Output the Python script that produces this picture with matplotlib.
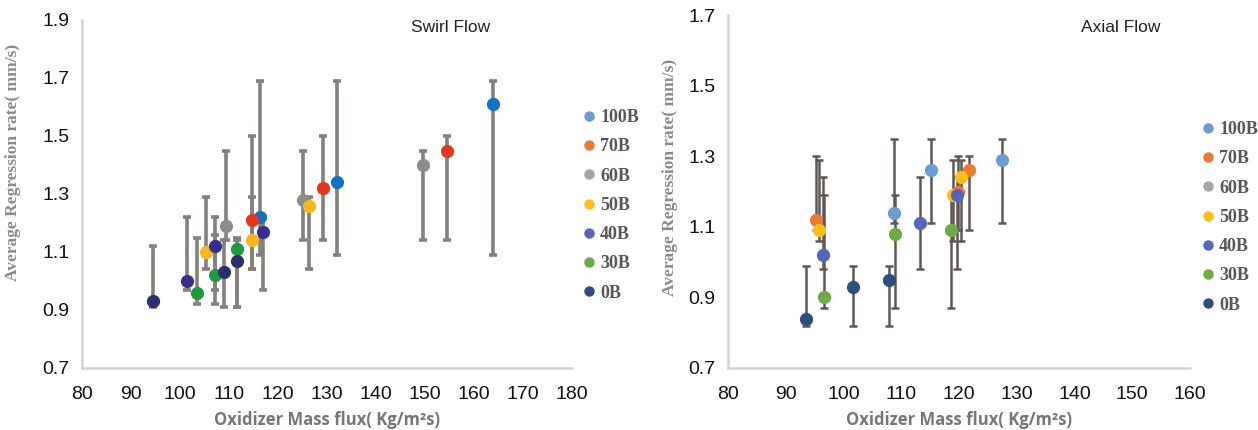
import matplotlib.pyplot as plt
from matplotlib.lines import Line2D

# series labels (same order in both panels)
labels = ["100B", "70B", "60B", "50B", "40B", "30B", "0B"]

# Swirl flow: mean regression rate with min/max bars
swirl_x = [[116.3, 132.0, 163.9], [114.7, 129.2, 154.5], [109.4, 125.1, 149.6],
           [105.3, 114.7, 126.3], [101.4, 107.1, 116.9], [103.5, 107.1, 111.6],
           [94.5, 109.0, 111.6]]
swirl_y = [[1.22, 1.34, 1.61], [1.21, 1.32, 1.45], [1.19, 1.28, 1.40],
           [1.10, 1.14, 1.26], [1.00, 1.12, 1.17], [0.96, 1.02, 1.11],
           [0.93, 1.03, 1.07]]
swirl_hi = [[1.69, 1.69, 1.69], [1.50, 1.50, 1.50], [1.45, 1.45, 1.45],
            [1.29, 1.29, 1.29], [1.22, 1.22, 1.22], [1.15, 1.16, 1.15],
            [1.12, 1.14, 1.14]]
swirl_lo = [[1.09, 1.09, 1.09], [1.04, 1.14, 1.14], [1.14, 1.14, 1.14],
            [1.04, 1.04, 1.04], [0.97, 0.97, 0.97], [0.92, 0.92, 0.91],
            [0.91, 0.91, 0.91]]

# Axial flow (no 60B points visible)
axial_x = [[108.7, 115.1, 127.4], [95.2, 119.8, 121.8], [],
           [95.8, 119.0, 120.3], [96.4, 113.3, 119.7], [96.7, 108.9, 118.6],
           [93.5, 101.6, 107.8]]
axial_y = [[1.14, 1.26, 1.29], [1.12, 1.20, 1.26], [],
           [1.09, 1.19, 1.24], [1.02, 1.11, 1.19], [0.90, 1.08, 1.09],
           [0.84, 0.93, 0.95]]
axial_hi = [[1.35, 1.35, 1.35], [1.30, 1.30, 1.30], [],
            [1.29, 1.29, 1.29], [1.24, 1.24, 1.24], [1.19, 1.19, 1.19],
            [0.99, 0.99, 0.99]]
axial_lo = [[1.11, 1.11, 1.11], [1.09, 1.09, 1.09], [],
            [1.06, 1.06, 1.06], [0.98, 0.98, 0.98], [0.87, 0.87, 0.87],
            [0.82, 0.82, 0.82]]

swirl_colors = ["#1371C4", "#E5371F", "#8E8C8A", "#F6B81C", "#392E8E", "#1E9B3C", "#2B2F6E"]
excel_colors = ["#6A9BD3", "#EC7A33", "#A7A5A3", "#FDBE1A", "#5565BA", "#6EAA45", "#2F4D7D"]

fig = plt.figure(figsize=(12.58, 4.30), dpi=100)
ax1 = fig.add_axes([82 / 1258, 62 / 430, 490 / 1258, 348 / 430])
ax2 = fig.add_axes([728 / 1258, 62 / 430, 462 / 1258, 353 / 430])


def draw(ax, xs, ys, his, los, colors, ecol, elw, cap, ms):
    for x, y, hi, lo in zip(xs, ys, his, los):
        if not x:
            continue
        err = [[a - b for a, b in zip(y, lo)], [b - a for a, b in zip(y, hi)]]
        ax.errorbar(x, y, yerr=err, fmt="none", ecolor=ecol, elinewidth=elw,
                    capsize=cap, capthick=elw, zorder=2)
    for x, y, c in zip(xs, ys, colors):
        if not x:
            continue
        ax.plot(x, y, "o", color=c, ms=ms, mec=c, zorder=3)


draw(ax1, swirl_x, swirl_y, swirl_hi, swirl_lo, swirl_colors, "#85807b", 2.6, 3.2, 8.5)
draw(ax2, axial_x, axial_y, axial_hi, axial_lo, excel_colors, "#5f5754", 1.8, 3.0, 8.5)

ax1.set_xlim(80, 180)
ax1.set_ylim(0.7, 1.9)
ax1.set_xticks(range(80, 181, 10))
ax1.set_yticks([0.7, 0.9, 1.1, 1.3, 1.5, 1.7, 1.9])
ax2.set_xlim(80, 160)
ax2.set_ylim(0.7, 1.7)
ax2.set_xticks(range(80, 161, 10))
ax2.set_yticks([0.7, 0.9, 1.1, 1.3, 1.5, 1.7])

for ax in (ax1, ax2):
    for s in ("top", "right"):
        ax.spines[s].set_visible(False)
    for s in ("left", "bottom"):
        ax.spines[s].set_color("#d6d2cf")
        ax.spines[s].set_linewidth(1.8)
    ax.tick_params(length=0, labelsize=14, labelcolor="#111111")
    ax.tick_params(axis="x", pad=13)
    ax.tick_params(axis="y", pad=9)
    for t in ax.get_xticklabels() + ax.get_yticklabels():
        t.set_family("Liberation Sans")
    ax.set_xlabel("Oxidizer Mass flux( Kg/m\u00b2s)", fontsize=12, fontweight="bold",
                  color="#7a7570", family="Open Sans", labelpad=6)

ax1.set_ylabel("Average Regression rate( mm/s)", fontsize=12.5, fontweight="bold",
               color="#8e8a87", family="Liberation Serif")
ax1.yaxis.set_label_coords(-0.125, 0.59)
ax2.set_ylabel("Average Regression rate( mm/s)", fontsize=12.5, fontweight="bold",
               color="#8e8a87", family="Liberation Serif")
ax2.yaxis.set_label_coords(-0.108, 0.54)

fig.text(451 / 1258, 1 - 27 / 430, "Swirl Flow", ha="center", va="center",
         fontsize=12.5, family="Liberation Sans", color="#222222")
fig.text(1121 / 1258, 1 - 27 / 430, "Axial Flow", ha="center", va="center",
         fontsize=12.5, family="Liberation Sans", color="#222222")

handles = [Line2D([], [], ls="none", marker="o", ms=6.5, color=c, mec=c) for c in excel_colors]
for xpos, ytop, sp in ((574, 100, 0.68), (1193, 112, 0.68)):
    leg = fig.legend(handles, labels, loc="upper left", frameon=False,
                     bbox_to_anchor=(xpos / 1258, 1 - ytop / 430), borderpad=0,
                     handlelength=0.7, handletextpad=0.25, labelspacing=sp,
                     prop={"family": "Liberation Serif", "weight": "bold", "size": 13})
    for t in leg.get_texts():
        t.set_color("#5a5656")

fig.savefig("out.png", dpi=100)
